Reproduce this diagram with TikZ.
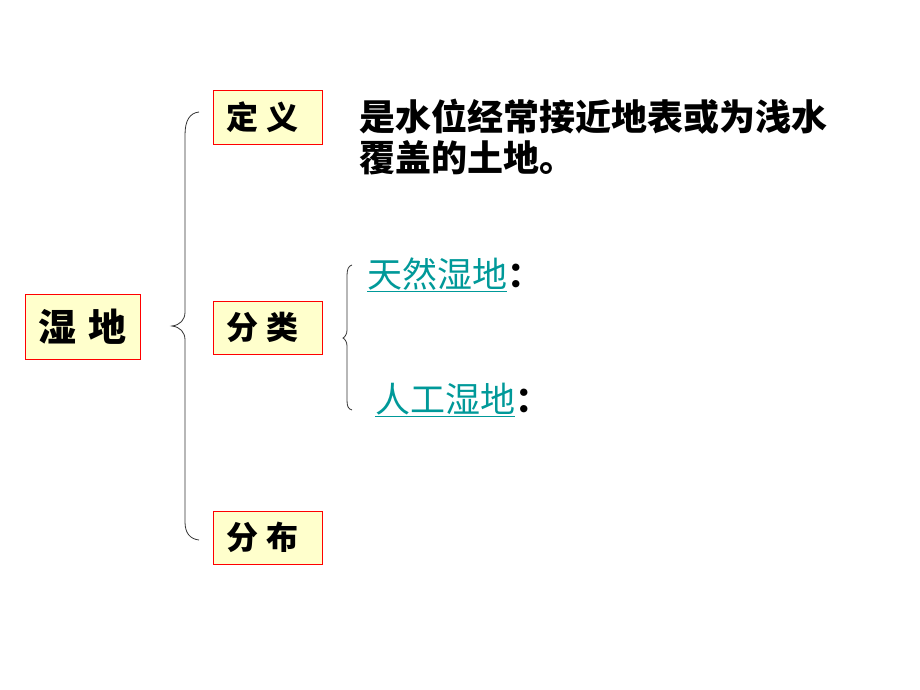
\documentclass[tikz,border=0pt]{standalone}
\usepackage{fontspec}
\setmainfont{Noto Sans CJK SC}
\definecolor{boxfill}{HTML}{FFFFCC}
\definecolor{boxred}{HTML}{FF0000}
\definecolor{linkteal}{HTML}{009999}
\tikzset{
  box/.style={draw=boxred, fill=boxfill, line width=1pt, inner ysep=0pt},
  term/.style={box, minimum height=53pt, text width=83pt, inner xsep=13pt,
    align=left, font=\fontsize{32}{32}\selectfont\bfseries},
  brace/.style={draw=black!80, line width=0.8pt},
  link/.style={anchor=west, inner sep=0pt, font=\fontsize{35}{35}\selectfont}
}
\begin{document}
\begin{tikzpicture}[x=1pt,y=-1pt]
      \useasboundingbox[fill=white] (0,0) rectangle (920,690);
      \node[box, minimum width=115pt, minimum height=65pt,
        font=\fontsize{38}{38}\selectfont\bfseries] (wetland) at (82.5,326.5) {湿\hspace{12pt}地};
      \node[term] (def) at (267.5,117.5) {定\hspace{9pt}义};
      \node[term] (cls) at (267.5,327.5) {分\hspace{9pt}类};
      \node[term] (dist) at (267.5,537.5) {分\hspace{9pt}布};
      \node[anchor=north west, inner sep=0pt, align=left,
        font=\fontsize{36}{41}\selectfont\bfseries] (meaning) at (359,99)
        {是水位经常接近地表或为浅水\\覆盖的土地。};
      \node[link] (natural) at (367,275) {\textcolor{linkteal}{\underline{天然湿地}}\textbf{：}};
      \node[link] (manmade) at (375,400) {\textcolor{linkteal}{\underline{人工湿地}}\textbf{：}};
      % braces
      \draw[brace] (199,112) .. controls (190,113) and (185,120) .. (185,135)
        -- (185,312) .. controls (185,320) and (180,325) .. (172,326)
        .. controls (180,327) and (185,332) .. (185,340)
        -- (185,522) .. controls (185,533) and (190,539) .. (199,540);
      \draw[brace] (352,265) .. controls (348,266) and (347,270) .. (347,276)
        -- (347,330) .. controls (347,334) and (345,337) .. (343,338)
        .. controls (345,339) and (347,342) .. (347,346)
        -- (347,400) .. controls (347,406) and (348,409) .. (352,410);
    \end{tikzpicture}
\end{document}
